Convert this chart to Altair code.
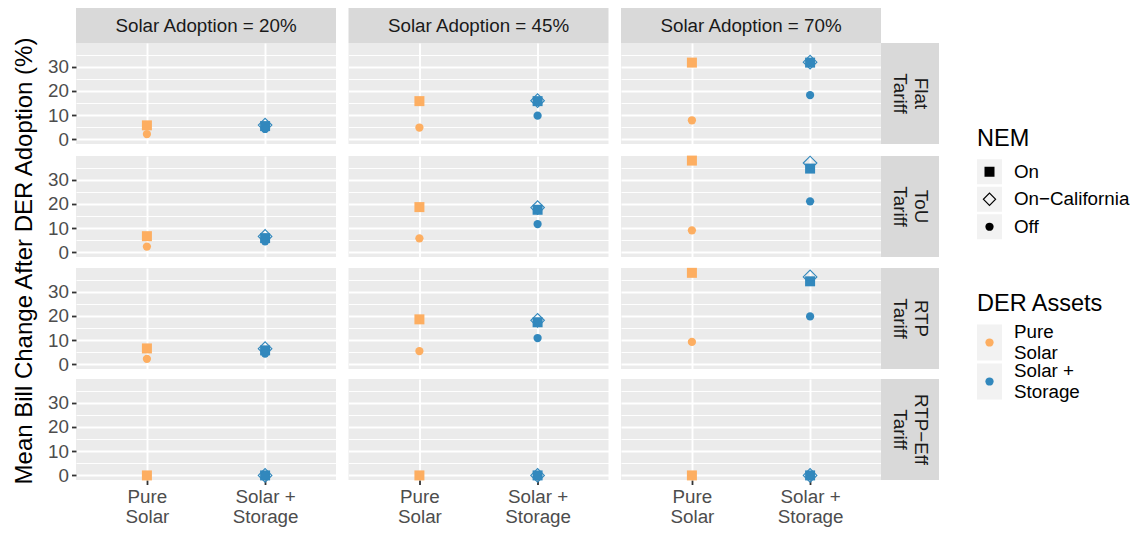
import altair as alt
import pandas as pd

FONT = "Liberation Sans"

# ---- categories / labels ----
adoption_levels = ["Solar Adoption = 20%", "Solar Adoption = 45%", "Solar Adoption = 70%"]
tariff_levels = ["Flat\nTariff", "ToU\nTariff", "RTP\nTariff", "RTP\u2212Eff\nTariff"]
asset_levels = ["Pure\nSolar", "Solar +\nStorage"]
nem_levels = ["On", "On\u2212California", "Off"]
asset_colors = ["#FDAE61", "#3288BD"]
y_major = [0, 10, 20, 30]
y_minor = [5, 15, 25, 35]
y_title = "Mean Bill Change After DER Adoption (%)"

# ---- values: rows = tariffs (Flat, ToU, RTP, RTP-Eff), cols = adoption (20, 45, 70) ----
pure_on = [[5.8, 15.8, 31.7], [6.7, 18.7, 37.9], [6.6, 18.6, 37.8], [0.0, 0.0, 0.0]]
pure_off = [[2.2, 4.9, 7.9], [2.4, 5.8, 9.1], [2.3, 5.5, 9.3], [0.0, 0.0, 0.0]]
storage_on = [[5.5, 15.8, 31.7], [5.9, 17.6, 34.6], [5.8, 17.4, 34.3], [0.0, 0.0, 0.0]]
storage_cal = [[5.9, 16.0, 31.9], [6.6, 18.5, 36.9], [6.5, 18.2, 36.1], [0.0, 0.0, 0.0]]
storage_off = [[4.3, 9.8, 18.3], [4.6, 11.7, 21.1], [4.5, 10.9, 19.8], [0.0, 0.0, 0.0]]

series = [
    (asset_levels[0], nem_levels[0], pure_on),
    (asset_levels[0], nem_levels[2], pure_off),
    (asset_levels[1], nem_levels[0], storage_on),
    (asset_levels[1], nem_levels[1], storage_cal),
    (asset_levels[1], nem_levels[2], storage_off),
]
records = []
for asset, nem, vals in series:
    for i, t in enumerate(tariff_levels):
        for j, a in enumerate(adoption_levels):
            records.append({"tariff": t, "adoption": a, "asset": asset, "nem": nem, "value": vals[i][j]})
df = pd.DataFrame(records)

lo, hi = df["value"].min(), df["value"].max()
pad = 0.05 * (hi - lo)
ydom = [lo - pad, hi + pad]
ymid = (ydom[0] + ydom[1]) / 2

# ---- layout constants ----
PW, PH = 260, 101
SH = 35
RSW = 58
COL_SP = 12.5
ROW_SP = 4.0
AX_FS = 18.8
TXT_FS = 18.8
TICK_COL = "#333333"
LAB_COL = "#4D4D4D"
PANEL_BG = "#EBEBEB"
STRIP_BG = "#D9D9D9"
LINE_H = 21

xscale = alt.Scale(type="point", domain=asset_levels, padding=0.6)
yscale = alt.Scale(domain=ydom, nice=False, zero=False)
color_enc = alt.Color("asset:N", scale=alt.Scale(domain=asset_levels, range=asset_colors), legend=None)
solid_levels = [nem_levels[0], nem_levels[2]]
shape_enc = alt.Shape("nem:N", scale=alt.Scale(domain=solid_levels, range=["square", "circle"]), legend=None)
size_enc = alt.Size("nem:N", scale=alt.Scale(domain=solid_levels, range=[100, 68]), legend=None)


def x_axis(show):
    return alt.Axis(title=None, grid=True, gridColor="white", gridWidth=1.9, domain=False,
                    labels=show, ticks=show, tickColor=TICK_COL, tickSize=4.5, tickWidth=1.8,
                    labelAngle=0, labelExpr="split(datum.label, '\\n')", labelFont=FONT,
                    labelFontSize=AX_FS, labelColor=LAB_COL, labelLineHeight=20, labelPadding=3)


def y_major_axis(show):
    return alt.Axis(title=None, values=y_major, orient="left", grid=True, gridColor="white",
                    gridWidth=1.9, domain=False, labels=show, ticks=show, tickColor=TICK_COL,
                    tickSize=4.5, tickWidth=1.8, labelFont=FONT, labelFontSize=AX_FS,
                    labelColor=LAB_COL, labelPadding=3)


def y_minor_axis():
    return alt.Axis(title=None, values=y_minor, orient="right", grid=True, gridColor="white",
                    gridWidth=0.95, domain=False, labels=False, ticks=False)


def panel(i, j):
    sub = df[(df["tariff"] == tariff_levels[i]) & (df["adoption"] == adoption_levels[j])]
    solid = sub[sub["nem"] != nem_levels[1]]
    hollow = sub[sub["nem"] == nem_levels[1]]
    show_y = j == 0
    show_x = i == len(tariff_levels) - 1
    a = alt.Chart(solid).mark_point(filled=True, opacity=1).encode(
        x=alt.X("asset:N", scale=xscale, axis=x_axis(show_x)),
        y=alt.Y("value:Q", scale=yscale, axis=y_major_axis(show_y)),
        color=color_enc, shape=shape_enc, size=size_enc,
    )
    b = alt.Chart(hollow).mark_point(filled=False, shape="diamond", size=185, strokeWidth=1.1, opacity=1).encode(
        x=alt.X("asset:N", scale=xscale, axis=x_axis(show_x)),
        y=alt.Y("value:Q", scale=yscale, axis=y_minor_axis()),
        color=color_enc,
    )
    return alt.layer(a, b).resolve_axis(y="independent").properties(
        width=PW, height=PH, view=alt.ViewBackground(fill=PANEL_BG, stroke=None))


ghost_axis = alt.Axis(title=None, values=[ymid], labelExpr="'30'", orient="left", grid=False,
                      domain=False, ticks=True, tickColor="transparent", tickSize=4.5, tickWidth=1.8,
                      labels=True, labelColor="transparent", labelFont=FONT, labelFontSize=AX_FS,
                      labelPadding=3)


def col_strip(j):
    d = pd.DataFrame({"label": [adoption_levels[j]]})
    if j == 0:
        yenc = alt.YDatum(ymid, scale=yscale, axis=ghost_axis)
    else:
        yenc = alt.value(SH / 2)
    return alt.Chart(d).mark_text(font=FONT, fontSize=TXT_FS, color="#1A1A1A", align="center", baseline="middle").encode(
        x=alt.value(PW / 2), y=yenc, text="label:N"
    ).properties(width=PW, height=SH, view=alt.ViewBackground(fill=STRIP_BG, stroke=None))


def row_strip(i):
    d = pd.DataFrame({"label": [tariff_levels[i]]})
    return alt.Chart(d).mark_text(font=FONT, fontSize=TXT_FS, color="#1A1A1A", angle=90, align="center",
                                  baseline="middle", lineBreak="\n", lineHeight=LINE_H).encode(
        x=alt.value(RSW / 2 + LINE_H / 2), y=alt.value(PH / 2), text="label:N"
    ).properties(width=RSW, height=PH, view=alt.ViewBackground(fill=STRIP_BG, stroke=None))


strip_row = alt.hconcat(*[col_strip(j) for j in range(3)], spacing=COL_SP)
rows = []
for i in range(len(tariff_levels)):
    panels = alt.hconcat(*[panel(i, j) for j in range(3)], spacing=COL_SP)
    rows.append(alt.hconcat(panels, row_strip(i), spacing=0))
rows_block = alt.vconcat(*rows, spacing=ROW_SP)
grid = alt.vconcat(strip_row, rows_block, spacing=0)

TW, TH = 34, 506
ytitle = alt.Chart(pd.DataFrame({"t": [y_title]})).mark_text(
    font=FONT, fontSize=24, angle=270, color="black", align="center", baseline="middle"
).encode(x=alt.value(TW / 2), y=alt.value(TH / 2), text="t:N").properties(
    width=TW, height=TH, view=alt.ViewBackground(fill=None, stroke=None))

left = alt.hconcat(ytitle, grid, spacing=5)

# ---- manual legends ----
LEG_FS = 18.8
TITLE_FS = 23.5


def legend_title(text):
    return alt.TitleParams(text, anchor="start", font=FONT, fontSize=TITLE_FS, fontWeight="normal",
                           color="black", offset=8)


nem_df = pd.DataFrame({"nem": nem_levels})
nem_y = alt.Y("nem:N", scale=alt.Scale(domain=nem_levels, paddingInner=2.5 / 27.5, paddingOuter=1.25 / 27.5),
              axis=None, sort=nem_levels)
nem_keys = alt.Chart(nem_df).mark_rect(color="#F2F2F2").encode(x=alt.value(0), x2=alt.value(25), y=nem_y)
nem_solid = alt.Chart(nem_df[nem_df["nem"] != nem_levels[1]]).mark_point(
    filled=True, opacity=1, color="black").encode(x=alt.value(12.5), y=nem_y, shape=shape_enc, size=size_enc)
nem_hollow = alt.Chart(nem_df[nem_df["nem"] == nem_levels[1]]).mark_point(
    filled=False, shape="diamond", size=150, strokeWidth=1.1, opacity=1, color="black").encode(
    x=alt.value(12.5), y=nem_y)
nem_text = alt.Chart(nem_df).mark_text(align="left", baseline="middle", font=FONT, fontSize=LEG_FS,
                                       color="black").encode(x=alt.value(37), y=nem_y, text="nem:N")
nem_leg = alt.layer(nem_keys, nem_solid, nem_hollow, nem_text).properties(
    width=150, height=82.5, title=legend_title("NEM"), view=alt.ViewBackground(fill=None, stroke=None))

der_df = pd.DataFrame({"asset": asset_levels})
der_y = alt.Y("asset:N", scale=alt.Scale(domain=asset_levels, paddingInner=3 / 39, paddingOuter=1.5 / 39),
              axis=None, sort=asset_levels)
der_keys = alt.Chart(der_df).mark_rect(color="#F2F2F2").encode(x=alt.value(0), x2=alt.value(25), y=der_y)
der_sym = alt.Chart(der_df).mark_point(filled=True, opacity=1, shape="circle", size=68).encode(
    x=alt.value(12.5), y=der_y, color=color_enc)
der_text = alt.Chart(der_df).mark_text(align="left", baseline="middle", font=FONT, fontSize=LEG_FS,
                                       color="black", lineBreak="\n", lineHeight=LINE_H,
                                       dy=-LINE_H / 2).encode(
    x=alt.value(37), y=der_y, text="asset:N")
der_leg = alt.layer(der_keys, der_sym, der_text).properties(
    width=150, height=78, title=legend_title("DER Assets"), view=alt.ViewBackground(fill=None, stroke=None))

spacer = alt.Chart(pd.DataFrame({"t": [""]})).mark_text().encode(text="t:N").properties(
    width=10, height=118, view=alt.ViewBackground(fill=None, stroke=None))

legend_col = alt.vconcat(spacer, alt.vconcat(nem_leg, der_leg, spacing=50), spacing=0)

chart = alt.hconcat(left, legend_col, spacing=38).properties(padding=0).configure_view(stroke=None)

chart.save("out.html", embed_options={"renderer": "svg", "actions": False})
